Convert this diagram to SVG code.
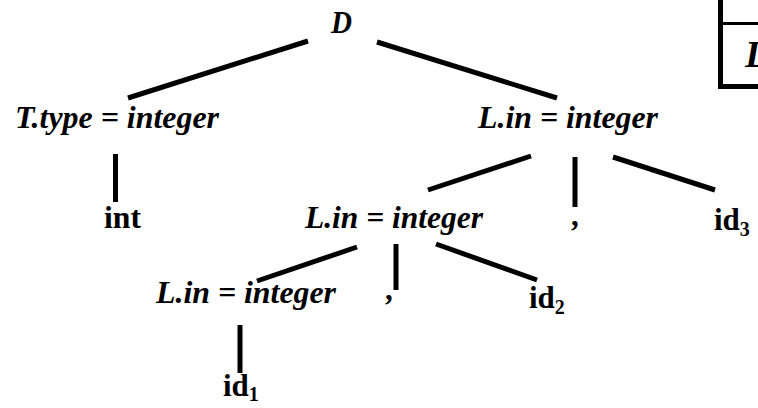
<svg xmlns="http://www.w3.org/2000/svg" width="758" height="408" viewBox="0 0 758 408">
<style>
.n{font-family:"Liberation Serif","Times New Roman",serif;font-size:31px;font-weight:bold;font-style:italic;fill:#000}
.t{font-family:"Liberation Serif","Times New Roman",serif;font-size:31px;font-weight:bold;fill:#000}
.s{font-size:20px}
.e line{stroke:#000;stroke-width:5}
</style>
<rect width="758" height="408" fill="#fff"/>
<g id="table">
<line x1="720.5" y1="0" x2="720.5" y2="89" stroke="#000" stroke-width="5"/>
<line x1="723" y1="23.5" x2="758" y2="23.5" stroke="#000" stroke-width="3"/>
<line x1="718" y1="86.5" x2="758" y2="86.5" stroke="#000" stroke-width="5"/>
<text class="n" x="745" y="67" style="font-size:38px">D</text>
</g>
<g class="e" id="edges">
<line x1="128" y1="98" x2="308" y2="41"/>
<line x1="377" y1="42" x2="557" y2="98"/>
<line x1="115.5" y1="154" x2="115.5" y2="202"/>
<line x1="428" y1="190" x2="531" y2="156"/>
<line x1="575" y1="157" x2="575" y2="207"/>
<line x1="613" y1="157" x2="715" y2="190"/>
<line x1="257" y1="281" x2="357" y2="247"/>
<line x1="396" y1="244" x2="396" y2="290"/>
<line x1="436" y1="244" x2="537" y2="280"/>
<line x1="240" y1="325" x2="240" y2="373"/>
</g>
<g id="nD"><text class="n" x="331" y="33" textLength="21" lengthAdjust="spacingAndGlyphs">D</text></g>
<g id="nT"><text class="n" x="15" y="128" textLength="204" lengthAdjust="spacingAndGlyphs">T.type = integer</text></g>
<g id="nL1"><text class="n" x="478" y="128" textLength="180" lengthAdjust="spacingAndGlyphs">L.in = integer</text></g>
<g id="nint"><text class="t" x="104" y="228" textLength="37" lengthAdjust="spacingAndGlyphs">int</text></g>
<g id="nL2"><text class="n" x="305" y="228" textLength="178" lengthAdjust="spacingAndGlyphs">L.in = integer</text></g>
<g id="ncomma1"><text class="t" x="571" y="226">,</text></g>
<g id="nid3"><text class="t" x="714" y="230">id<tspan class="s" dy="6">3</tspan></text></g>
<g id="nL3"><text class="n" x="156" y="303" textLength="180" lengthAdjust="spacingAndGlyphs">L.in = integer</text></g>
<g id="ncomma2"><text class="t" x="385" y="300">,</text></g>
<g id="nid2"><text class="t" x="529" y="308">id<tspan class="s" dy="6">2</tspan></text></g>
<g id="nid1"><text class="t" x="223" y="396">id<tspan class="s" dy="5">1</tspan></text></g>
</svg>
